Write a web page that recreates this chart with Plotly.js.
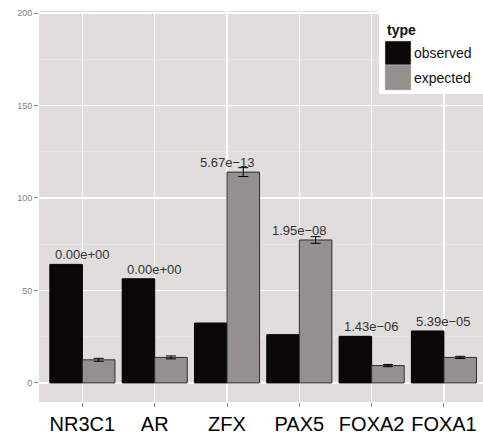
<!DOCTYPE html>
<html><head><meta charset="utf-8">
<script src="https://cdn.plot.ly/plotly-3.0.1.min.js"></script>
<style>body{margin:0;padding:0;background:#fff}#chart{width:483px;height:434px}</style>
</head><body><div id="chart"></div>
<script>
var categories = ["NR3C1","AR","ZFX","PAX5","FOXA2","FOXA1"];
var observed = [64.1, 56.3, 32.4, 26.1, 25.2, 28.1];
var expected = [12.5, 13.8, 114.0, 77.3, 9.4, 13.8];
var expectedErr = [0.8, 0.8, 2.4, 1.8, 0.6, 0.6];
var pvalues = ["0.00e+00","0.00e+00","5.67e\u221213","1.95e\u221208","1.43e\u221206","5.39e\u221205"];
var legendTitle = "type";
var seriesNames = ["observed","expected"];

var W=483,H=434,L=39,R=0,T=11,B=32;
function px(x){return (x-L)/(W-L-R);}
function py(y){return (H-B-y)/(H-T-B);}
var FONT='Liberation Sans, Arial, sans-serif';

var traces = [
 {type:'bar', x:categories, y:observed, name:seriesNames[0],
  marker:{color:'#0a0806', line:{color:'#000', width:1}}, showlegend:false, hoverinfo:'none'},
 {type:'bar', x:categories, y:expected, name:seriesNames[1],
  marker:{color:'#958f8d', line:{color:'#2e2e2e', width:1}},
  error_y:{type:'data', array:expectedErr, visible:true, color:'#000', thickness:1, width:5},
  showlegend:false, hoverinfo:'none'}
];

var annotations = categories.map(function(c,i){
  var top = Math.max(observed[i], expected[i]);
  return {x:c, y:top, xref:'x', yref:'y', text:pvalues[i], showarrow:false,
    yanchor:'bottom', yshift:0, font:{family:FONT, size:13, color:'#333'}};
});
annotations.push({xref:'paper', yref:'paper', x:px(385), y:py(30), xanchor:'left', yanchor:'middle',
  text:'<b>'+legendTitle+'</b>', showarrow:false, font:{family:FONT, size:14, color:'#111'}});
annotations.push({xref:'paper', yref:'paper', x:px(412), y:py(53), xanchor:'left', yanchor:'middle',
  text:seriesNames[0], showarrow:false, font:{family:FONT, size:14, color:'#111'}});
annotations.push({xref:'paper', yref:'paper', x:px(412), y:py(78), xanchor:'left', yanchor:'middle',
  text:seriesNames[1], showarrow:false, font:{family:FONT, size:14, color:'#111'}});

var shapes = [
 {type:'rect', xref:'paper', yref:'paper', x0:px(379), x1:px(484), y0:py(94), y1:py(11), fillcolor:'#fff', line:{width:0}, layer:'above'},
 {type:'rect', xref:'paper', yref:'paper', x0:px(385), x1:px(411), y0:py(65), y1:py(41), fillcolor:'#0a0806', line:{width:0.5,color:'#ccc'}, layer:'above'},
 {type:'rect', xref:'paper', yref:'paper', x0:px(385), x1:px(411), y0:py(90), y1:py(65), fillcolor:'#958f8d', line:{width:0.5,color:'#ccc'}, layer:'above'}
];

var layout = {
  width:W, height:H, margin:{l:L,r:R,t:T,b:B},
  paper_bgcolor:'#fff', plot_bgcolor:'#e0dddc',
  barmode:'group', bargap:0.1, bargroupgap:0,
  showlegend:false,
  xaxis:{type:'category', range:[-0.6,5.54], showgrid:true, gridcolor:'#fff', gridwidth:1.2,
    ticks:'outside', ticklen:4, tickcolor:'#888', zeroline:false, showline:false,
    tickfont:{family:FONT, size:20, color:'#000'}},
  yaxis:{range:[-10.3,201.1], tickvals:[0,50,100,150,200], showgrid:true, gridcolor:'#fff', gridwidth:1.2,
    minor:{tickvals:[25,75,125,175], showgrid:true, gridcolor:'#ebe9e8', gridwidth:0.6, ticks:''},
    ticks:'outside', ticklen:4, tickcolor:'#888', zeroline:false, showline:false,
    tickfont:{family:FONT, size:9, color:'#7f7f7f'}},
  annotations:annotations, shapes:shapes
};
Plotly.newPlot('chart', traces, layout, {displayModeBar:false, staticPlot:true});
</script></body></html>
